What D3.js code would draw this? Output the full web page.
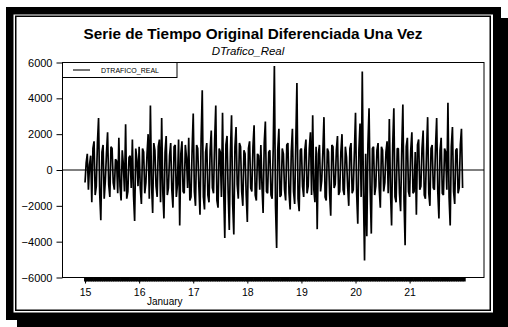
<!DOCTYPE html>
<html>
<head>
<meta charset="utf-8">
<script src="https://cdn.jsdelivr.net/npm/d3@7"></script>
<style>
  body { margin: 0; background: #fff; }
  svg { display: block; font-family: "Liberation Sans", Arial, sans-serif; }
</style>
</head>
<body>
<svg id="chart" width="508" height="327"></svg>
<script>
const title = 'Serie de Tiempo Original Diferenciada Una Vez';
const subtitle = 'DTrafico_Real';
const seriesName = 'DTRAFICO_REAL';
const monthLabel = 'January';
const dayLabels = [15, 16, 17, 18, 19, 20, 21];
const yTicks = [-6000, -4000, -2000, 0, 2000, 4000, 6000];

// half-hourly differenced traffic, one array per day
const day15 = [-700, 400, 900, -1100, 300, 800, -1800, 1200, 1600, -1400, -900, 1500, 2900, -1300, -2800, 1000, 1400, -1600, -600, 900, 2100, -800, -1500, 1300, 1200, -700, -1100, 600, 500, -1300, 1800, -900, -1700, 1100, 300, -1200, 2550, -1600, -1200, 700, 800, -1000, 1700, -1400, -2850, 1200, 600, -900];
const day16 = [1300, -1000, -1900, 1200, 1000, -1300, -700, 900, 2000, -1600, 3600, -800, -2400, 1500, 1100, -900, -1500, 1300, 1700, -1800, 2900, -1200, -2700, 1000, 1900, -1400, -1000, 800, 1500, -1100, -2100, 1300, 1400, -1500, -800, 1700, -3100, 900, 1600, -1200, -1300, 1400, 700, -1000, 1800, -1700, -1500, 1100];
const day17 = [3150, -1200, -2000, 1400, 1200, -900, -2500, 1700, 4450, -1500, -2200, 1000, 1500, -1400, -1800, 1100, 2200, -1000, -1300, 1600, 3600, -1700, -2100, 1200, 1000, -1500, 3200, -1100, -3800, 1400, 1900, -1300, -3350, 1000, 3050, -1900, -3600, 1300, 2400, -800, -1600, 1500, 1300, -1200, -2000, 1100, 900, -1400];
const day18 = [-2900, 1200, 1600, -1000, -1200, 1300, 2500, -1400, -1700, 900, 800, -1100, 1400, -900, -2400, 1500, 2700, -1200, -1300, 1000, 1100, -1400, -1600, 1300, 5800, -2000, -4350, 1100, 2300, -1500, -1400, 1200, 900, -1100, -1700, 1400, 1500, -1300, -2200, 1000, 2300, -1200, -1900, 1500, 4850, -1600, -2300, 1100];
const day19 = [1200, -900, -1500, 1100, 1700, -1300, -900, 1200, 2100, -1400, 3050, -1100, -1800, 1300, -3300, 900, 1400, -1200, -600, 1000, 2950, -1500, -1700, 1200, 1000, -1300, -2550, 1400, 1300, -1000, -800, 1100, 1900, -1400, -1200, 1000, 2000, -1100, -1400, 1300, 700, -900, -2000, 1200, 1500, -1300, -1100, 1000];
const day20 = [3200, -1300, -3000, 1100, 2600, -1500, 5500, -1200, -5050, 900, -3700, 1400, 3450, -1100, -3550, 1200, 1300, -1400, -900, 1100, 1500, -1000, -2100, 1300, 1100, -1200, -700, 1000, 1600, -1300, 2850, -1100, -3100, 1400, 3450, -1500, -1800, 1200, 1200, -1300, -2300, 1100, 3650, -1600, -4200, 1300, 1800, -1200];
const day21 = [-1500, 1100, 2100, -1300, -1200, 1000, -2500, 1400, 1700, -1100, -900, 1200, 2200, -1400, -1600, 1000, 2950, -1300, -2000, 1200, 1400, -1000, -1100, 1300, 2900, -1200, -2700, 1100, 1800, -1300, -1400, 1200, 1000, -1100, 3750, -1500, -3100, 1300, 2400, -1200, -1900, 1100, 1200, -1300, -1000, 1400, 2300, -1000];

const days = [day15, day16, day17, day18, day19, day20, day21];
const data = [];
days.forEach((vals, di) => {
    vals.forEach((v, k) => data.push({ t: new Date(2008, 0, dayLabels[di], 0, k * 30), v }));
});

const svg = d3.select('#chart');

// panel with shadow and double border
svg.append('rect').attr('x', 17).attr('y', 18).attr('width', 495).attr('height', 313).attr('fill', '#000');
svg.append('rect').attr('x', 6).attr('y', 7).attr('width', 495).attr('height', 313).attr('fill', '#000');
svg.append('rect').attr('x', 13.5).attr('y', 14.5).attr('width', 479.5).attr('height', 298).attr('fill', '#fff');
svg.append('rect').attr('x', 15.75).attr('y', 16.25).attr('width', 474.5).attr('height', 294)
    .attr('fill', 'none').attr('stroke', '#000').attr('stroke-width', 1.5);

const plotL = 62.5, plotR = 484, plotT = 62.5, plotB = 277.5;

const x = d3.scaleTime()
    .domain([new Date(2008, 0, 14, 14), new Date(2008, 0, 22, 9)])
    .range([plotL, plotR]);
const y = d3.scaleLinear().domain([-6000, 6000]).range([plotB, plotT]);

svg.append('text')
    .attr('x', 253).attr('y', 38.5)
    .attr('text-anchor', 'middle')
    .style('font-size', '15.3px').style('font-weight', 'bold')
    .text(title);

svg.append('text')
    .attr('x', 248).attr('y', 54.5)
    .attr('text-anchor', 'middle')
    .style('font-size', '11.5px').style('font-style', 'italic')
    .text(subtitle);

// zero line
svg.append('line')
    .attr('x1', plotL).attr('x2', plotR)
    .attr('y1', y(0)).attr('y2', y(0))
    .attr('stroke', '#000').attr('stroke-width', 1);

const line = d3.line().x(d => x(d.t)).y(d => y(d.v));
svg.append('path')
    .datum(data)
    .attr('d', line)
    .attr('fill', 'none')
    .attr('stroke', '#000')
    .attr('stroke-width', 1.7)
    .attr('stroke-linejoin', 'miter')
    .attr('stroke-miterlimit', 1);

// plot frame
svg.append('rect')
    .attr('x', plotL).attr('y', plotT)
    .attr('width', plotR - plotL).attr('height', plotB - plotT)
    .attr('fill', 'none').attr('stroke', '#000').attr('stroke-width', 1);

// y axis
const yAxis = svg.append('g')
    .attr('transform', `translate(${plotL},0)`)
    .call(d3.axisLeft(y).tickValues(yTicks).tickSize(6).tickPadding(4).tickFormat(d3.format('d')));
yAxis.select('.domain').remove();
yAxis.selectAll('text').style('font-size', '11px').style('font-family', '"Liberation Sans", Arial, sans-serif');

// hourly minor ticks
const hours = d3.timeHour.range(new Date(2008, 0, 15), new Date(2008, 0, 22, 1));
const minor = svg.append('g')
    .attr('transform', `translate(0,${plotB})`)
    .call(d3.axisBottom(x).tickValues(hours).tickSize(4).tickFormat(''));
minor.select('.domain').remove();
minor.selectAll('line').attr('stroke-width', 3);

// day ticks
const dayTicks = dayLabels.map(d => new Date(2008, 0, d));
const major = svg.append('g')
    .attr('transform', `translate(0,${plotB})`)
    .call(d3.axisBottom(x).tickValues(dayTicks).tickSize(6).tickPadding(5).tickFormat(d3.timeFormat('%-d')));
major.select('.domain').remove();
major.selectAll('text').style('font-size', '10.5px').style('font-family', '"Liberation Sans", Arial, sans-serif');

svg.append('text')
    .attr('x', 147).attr('y', 305)
    .style('font-size', '10px')
    .text(monthLabel);

// legend
const legend = svg.append('g');
legend.append('rect')
    .attr('x', plotL).attr('y', plotT)
    .attr('width', 114.5).attr('height', 15)
    .attr('fill', '#fff').attr('stroke', '#000').attr('stroke-width', 1);
legend.append('line')
    .attr('x1', 73).attr('x2', 90).attr('y1', 70).attr('y2', 70)
    .attr('stroke', '#444').attr('stroke-width', 1.5);
legend.append('text')
    .attr('x', 101).attr('y', 72.5)
    .style('font-size', '7px')
    .text(seriesName);
</script>
</body>
</html>
